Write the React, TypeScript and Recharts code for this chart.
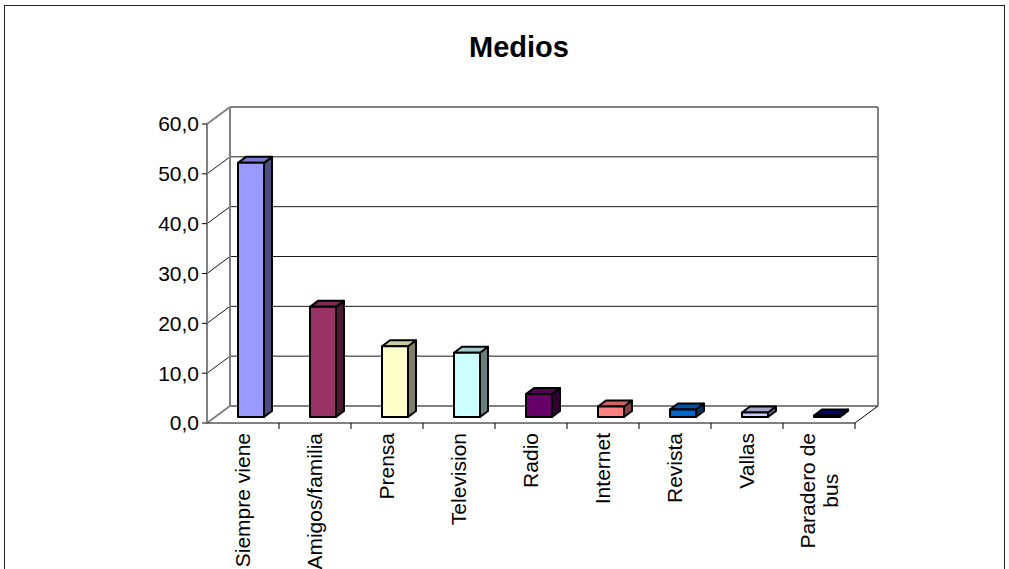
import { Bar, BarChart, CartesianGrid, Cell, XAxis, YAxis } from "recharts";

const categories = [
  "Siempre viene",
  "Amigos/familia",
  "Prensa",
  "Television",
  "Radio",
  "Internet",
  "Revista",
  "Vallas",
  "Paradero de bus",
];
const values = [51.0, 22.1, 14.2, 12.9, 4.6, 2.1, 1.5, 0.9, 0.3];
const barColors = [
  "#9999FF",
  "#993366",
  "#FFFFCC",
  "#CCFFFF",
  "#660066",
  "#FF8080",
  "#0066CC",
  "#CCCCFF",
  "#000080",
];
const yTicks = [0, 10, 20, 30, 40, 50, 60];

const FONT = '"Liberation Sans", Arial, sans-serif';
const WALL = "#808080";
// depth of the 3d walls and of each box
const DX = 23;
const DY = -17;
const BOX_DX = 8;
const BOX_DY = -6;
const LABEL_SIZE = 21;

const rows = categories.map((name, i) => ({ name, value: values[i] }));

function shade(hex: string, k: number) {
  const n = parseInt(hex.slice(1), 16);
  const r = Math.round(((n >> 16) & 255) * k);
  const g = Math.round(((n >> 8) & 255) * k);
  const b = Math.round((n & 255) * k);
  return `rgb(${r},${g},${b})`;
}

let measureCtx: CanvasRenderingContext2D | null = null;
function textWidth(s: string, size: number) {
  if (!measureCtx) measureCtx = document.createElement("canvas").getContext("2d");
  if (!measureCtx) return s.length * size * 0.5;
  measureCtx.font = `${size}px ${FONT}`;
  return measureCtx.measureText(s).width;
}

function wrap(label: string, size: number, max: number) {
  const words = label.split(" ");
  const lines: string[] = [];
  let cur = "";
  for (const w of words) {
    const next = cur ? `${cur} ${w}` : w;
    if (cur && textWidth(next, size) > max) {
      lines.push(cur);
      cur = w;
    } else cur = next;
  }
  if (cur) lines.push(cur);
  return lines;
}

function Box(props: any) {
  const { x, y, width, height, fill } = props;
  if (x == null || y == null) return null;
  const fx = x + BOX_DX;
  const fy = y + BOX_DY;
  const h = Math.max(height, 0);
  const front = `M${fx},${fy} h${width} v${h} h${-width} Z`;
  const top = `M${fx},${fy} l${BOX_DX},${BOX_DY} h${width} l${-BOX_DX},${-BOX_DY} Z`;
  const side = `M${fx + width},${fy} l${BOX_DX},${BOX_DY} v${h} l${-BOX_DX},${-BOX_DY} Z`;
  return (
    <g stroke="#000" strokeWidth={2} strokeLinejoin="round">
      <path d={side} fill={shade(fill, 0.5)} />
      <path d={top} fill={shade(fill, 0.8)} />
      <path d={front} fill={fill} />
    </g>
  );
}

function WallLine(props: any) {
  const { x1, y1, x2, y, height } = props;
  const isTop = Math.abs(y1 - y) < 0.5;
  const isBottom = Math.abs(y1 - (y + height)) < 0.5;
  const edge = isTop || isBottom;
  const stroke = edge ? WALL : "#1a1a1a";
  const sw = edge ? 2 : 1;
  return (
    <g key={props.key}>
      <line x1={x1} y1={y1} x2={x1 + DX} y2={y1 + DY} stroke={stroke} strokeWidth={sw} />
      <line x1={x1 + DX} y1={y1 + DY} x2={x2 + DX} y2={y1 + DY} stroke={stroke} strokeWidth={sw} />
      {isTop ? (
        <>
          <line x1={x1 + DX} y1={y1 + DY} x2={x1 + DX} y2={y + height + DY} stroke={WALL} strokeWidth={2} />
          <line x1={x2 + DX} y1={y1 + DY} x2={x2 + DX} y2={y + height + DY} stroke={WALL} strokeWidth={2} />
        </>
      ) : null}
      {isBottom ? (
        <line x1={x2} y1={y1} x2={x2 + DX} y2={y1 + DY} stroke="#000" strokeWidth={1} />
      ) : null}
    </g>
  );
}

function CategoryTick(props: any) {
  const { x, y, payload } = props;
  const half = payload?.offset ?? 36;
  const size = LABEL_SIZE;
  const lines = wrap(String(payload.value), size, 148);
  const lh = 23;
  const widest = Math.max(...lines.map((l) => textWidth(l, size)));
  const axisY = y - 10;
  return (
    <g>
      <line x1={x + half} y1={axisY} x2={x + half} y2={axisY + 6} stroke="#000" strokeWidth={1} />
      {lines.map((line, i) => {
        const cx = x + (i - (lines.length - 1) / 2) * lh;
        const single = lines.length === 1;
        const ty = single ? y : y + widest / 2;
        return (
          <text
            key={line}
            x={cx}
            y={ty}
            dy="0.35em"
            transform={`rotate(-90, ${cx}, ${ty})`}
            textAnchor={single ? "end" : "middle"}
            fontFamily={FONT}
            fontSize={size}
            fill="#000"
          >
            {line}
          </text>
        );
      })}
    </g>
  );
}

export default function App() {
  return (
    <div style={{ position: "relative", width: 1009, height: 569, background: "#fff", overflow: "hidden", fontFamily: FONT }}>
      <style>{"body{margin:0}"}</style>
      <div
        style={{
          position: "absolute",
          left: 4,
          top: 5,
          width: 1001,
          height: 620,
          border: "1px solid #222",
          boxSizing: "border-box",
        }}
      />
      <div
        style={{
          position: "absolute",
          left: 0,
          width: 1038,
          top: 29,
          textAlign: "center",
          fontSize: 29,
          fontWeight: "bold",
          lineHeight: "36px",
        }}
      >
        Medios
      </div>
      <div style={{ position: "absolute", left: 0, top: 0 }}>
        <BarChart
          width={1009}
          height={569}
          data={rows}
          margin={{ top: 124, right: 154, left: 147, bottom: 0 }}
          barSize={26}
        >
          <CartesianGrid horizontal={WallLine} vertical={false} />
          <XAxis
            dataKey="name"
            height={146}
            axisLine={{ stroke: "#000", strokeWidth: 1 }}
            tickLine={false}
            tickSize={6}
            tickMargin={4}
            interval={0}
            tick={<CategoryTick />}
          />
          <YAxis
            width={60}
            domain={[0, 60]}
            ticks={yTicks}
            interval={0}
            axisLine={{ stroke: WALL, strokeWidth: 2 }}
            tickLine={{ stroke: "#000", strokeWidth: 1 }}
            tickSize={5}
            tickMargin={3}
            tickFormatter={(v: number) => v.toFixed(1).replace(".", ",")}
            tick={{ fill: "#000", fontSize: LABEL_SIZE, fontFamily: FONT }}
          />
          <Bar dataKey="value" shape={<Box />} isAnimationActive={false}>
            {rows.map((r, i) => (
              <Cell key={r.name} fill={barColors[i]} />
            ))}
          </Bar>
        </BarChart>
      </div>
    </div>
  );
}
